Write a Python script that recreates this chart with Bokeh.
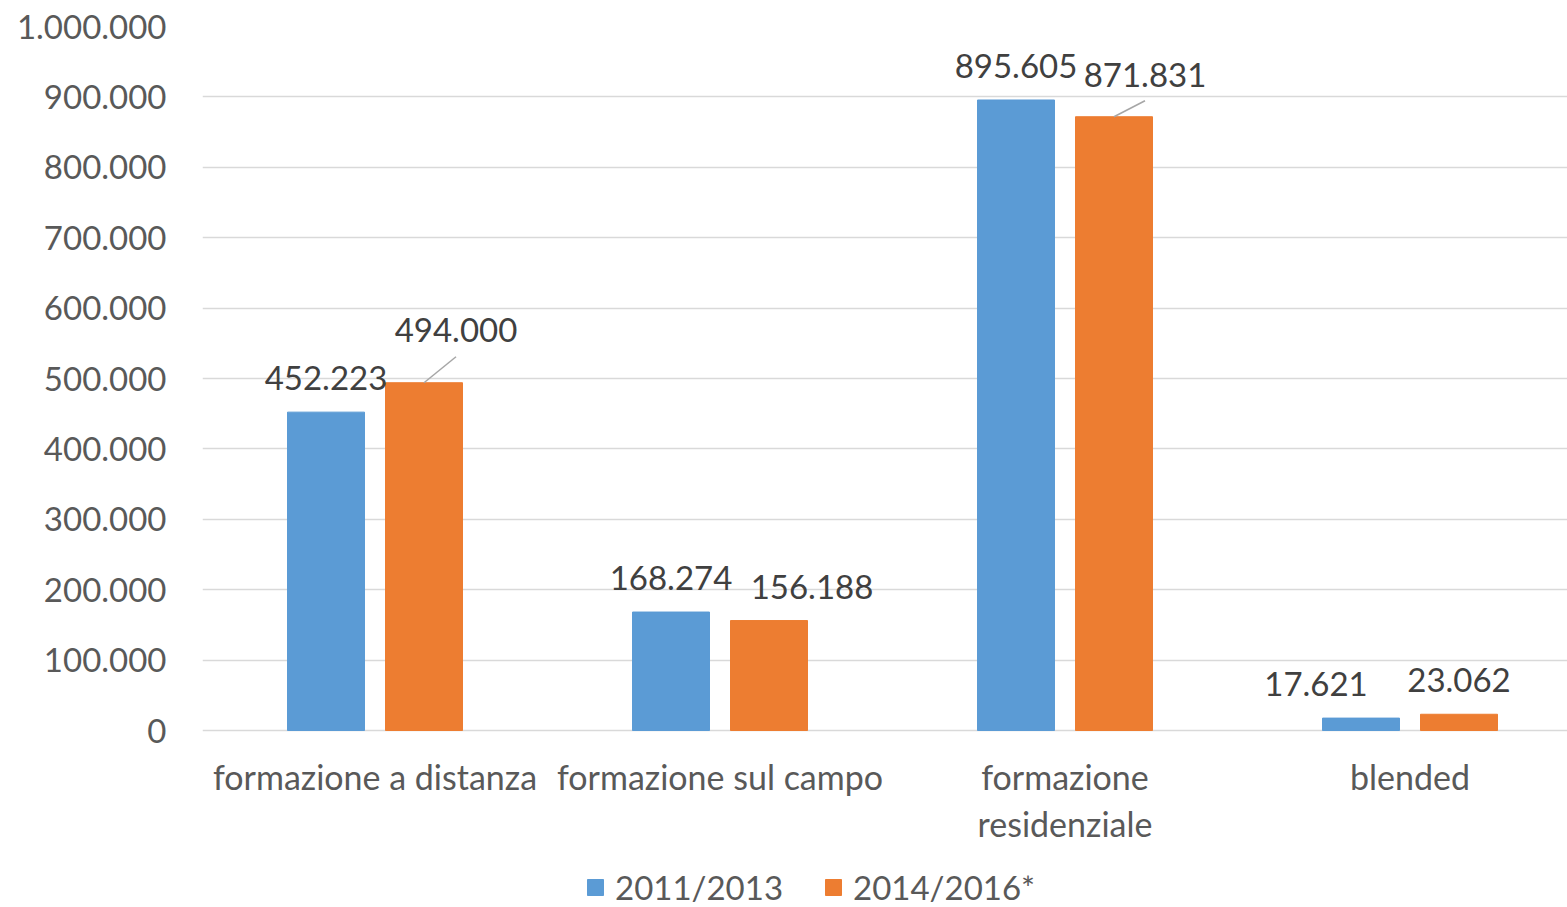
from bokeh.plotting import figure
from bokeh.models import Range1d, FixedTicker, Legend, LegendItem
from bokeh.core.properties import value
from bokeh.embed import file_html
from bokeh.resources import INLINE

categories = ["formazione a distanza", "formazione sul campo", "formazione residenziale", "blended"]
category_labels = ["formazione a distanza", "formazione sul campo", "formazione\nresidenziale", "blended"]
series_names = ["2011/2013", "2014/2016*"]
values_2011 = [452223, 168274, 895605, 17621]
values_2014 = [494000, 156188, 871831, 23062]
y_ticks = [0, 100000, 200000, 300000, 400000, 500000, 600000, 700000, 800000, 900000, 1000000]
y_tick_labels = ["0", "100.000", "200.000", "300.000", "400.000", "500.000", "600.000",
                 "700.000", "800.000", "900.000", "1.000.000"]

BLUE = "#5B9BD5"
ORANGE = "#ED7D31"
FONT = "Lato"

W, H = 1567, 907
LEFT, TOP = 202, 26
ZERO_PX = 730              # pixel row of value 0
FRAME_W = W - LEFT
FRAME_H = H - TOP          # frame reaches the bottom so that labels and legend are not clipped
PLOT_H = ZERO_PX - TOP     # pixels for 0 .. 1.000.000
CAT_PX = 345.0
X_END = FRAME_W / CAT_PX
PX_X = 1.0 / CAT_PX
PX_Y = 1000000.0 / PLOT_H
Y_START = -(H - ZERO_PX) * PX_Y

p = figure(frame_width=FRAME_W, frame_height=FRAME_H, output_backend="svg", toolbar_location=None,
           x_range=Range1d(0, X_END), y_range=Range1d(Y_START, 1000000),
           min_border_left=LEFT, min_border_right=0, min_border_top=TOP, min_border_bottom=0)
p.outline_line_color = None
p.background_fill_color = "white"
p.border_fill_color = "white"

centers = [i + 0.5 for i in range(len(categories))]
off = 49 * PX_X
bw = 77 * PX_X

x1 = [c - off for c in centers]
x2 = [c + off for c in centers]
r1 = p.vbar(x=x1, top=values_2011, width=bw, color=BLUE)
r2 = p.vbar(x=x2, top=values_2014, width=bw, color=ORANGE)

def fmt(v):
    return f"{v:,}".replace(",", ".")

# data label placement tweaks (pixels): (series, category) -> (dx, dy_center, leader_end_dy)
moved = {(1, 0): (32, -53, -26), (1, 2): (31, -42, -16)}
shifted = {(1, 1): 43, (0, 3): -45}

lab_x, lab_y, lab_t = [], [], []
seg_x0, seg_y0, seg_x1, seg_y1 = [], [], [], []
for s, (xs, vals) in enumerate([(x1, values_2011), (x2, values_2014)]):
    for i, (x, v) in enumerate(zip(xs, vals)):
        if (s, i) in moved:
            dx, dy, ly = moved[(s, i)]
            lab_x.append(x + dx * PX_X)
            lab_y.append(v - dy * PX_Y)
            seg_x0.append(x)
            seg_y0.append(v)
            seg_x1.append(x + dx * PX_X)
            seg_y1.append(v - ly * PX_Y)
        else:
            lab_x.append(x + shifted.get((s, i), 0) * PX_X)
            lab_y.append(v + 34 * PX_Y)
        lab_t.append(fmt(v))

p.segment(x0=seg_x0, y0=seg_y0, x1=seg_x1, y1=seg_y1, line_color="#A6A6A6", line_width=1.5)
p.text(x=lab_x, y=lab_y, text=lab_t, text_align="center", text_baseline="middle",
       text_font=value(FONT), text_font_size="33px", text_color="#404040")

# category labels (drawn below the zero line)
p.text(x=centers, y=[0] * len(centers), text=category_labels, y_offset=25,
       text_align="center", text_baseline="top", text_line_height=1.15,
       text_font=value(FONT), text_font_size="34px", text_color="#595959")
p.xaxis.visible = False

# y axis
p.yaxis.ticker = FixedTicker(ticks=y_ticks)
p.yaxis.major_label_overrides = {t: l for t, l in zip(y_ticks, y_tick_labels)}
p.yaxis.axis_line_color = None
p.yaxis.major_tick_line_color = None
p.yaxis.minor_tick_line_color = None
p.yaxis.major_label_standoff = 30
p.yaxis.major_label_text_font = FONT
p.yaxis.major_label_text_font_size = "33px"
p.yaxis.major_label_text_color = "#595959"

p.xgrid.grid_line_color = None
p.ygrid.ticker = FixedTicker(ticks=y_ticks)
p.ygrid.grid_line_color = "#D9D9D9"
p.ygrid.grid_line_width = 1.5

legend = Legend(items=[LegendItem(label=series_names[0], renderers=[r1]),
                       LegendItem(label=series_names[1], renderers=[r2])],
                orientation="horizontal", location=(383, 0),
                label_text_font=FONT, label_text_font_size="33px", label_text_color="#595959",
                glyph_width=20, glyph_height=20, spacing=40, label_standoff=10,
                border_line_color=None, background_fill_alpha=0, padding=0, margin=0)
p.add_layout(legend)

open("out.html", "w").write(file_html(p, INLINE))
